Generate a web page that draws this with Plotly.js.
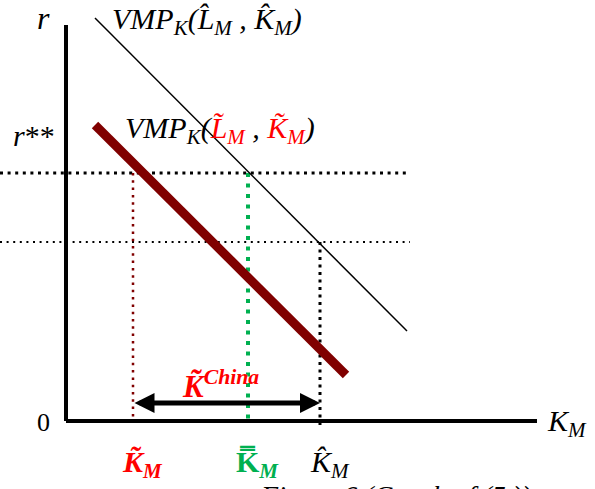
<!DOCTYPE html>
<html>
<head>
<meta charset="utf-8">
<script src="https://cdn.plot.ly/plotly-3.0.1.min.js"></script>
<style>html,body{margin:0;padding:0;background:#fff;}#chart{width:595px;height:489px;}</style>
</head>
<body>
<div id="chart"></div>
<script>
// Data in diagram units (origin at the axes' corner, 1 unit = 1 px)
const axisX = [0, 471];          // horizontal K_M axis extent
const axisY = [0, 396];          // vertical r axis extent
const vmpHatX = [29, 341];       // VMP_K(L^_M, K^_M)
const vmpHatY = [403, 90];
const vmpTildeX = [29, 280];     // VMP_K(L~_M, K~_M)
const vmpTildeY = [296, 46];
const rStarStar = 248;           // r** level
const rLower = 179;              // level at which K^_M is read
const guideLeft = -66, guideRight = 344;
const kTilde = 67;               // K~_M
const kBar = 182;                // K=_M
const kHat = 254;                // K^_M
const arrowLevel = 18;
const kLabels = ['K\u0303', 'K\u033F', 'K\u0302'];

const serif = 'Liberation Serif, Times New Roman, serif';
const RED = '#ff0000', DARKRED = '#800000', GREEN = '#00b050';

const traces = [
  {x: [0, 0], y: axisY, mode: 'lines', line: {color: '#000', width: 4}},
  {x: axisX, y: [0, 0], mode: 'lines', line: {color: '#000', width: 4}},
  {x: [guideLeft, guideRight], y: [rStarStar, rStarStar], mode: 'lines', line: {color: '#000', width: 3, dash: '3px,4.6px'}},
  {x: [guideLeft, guideRight], y: [rLower, rLower], mode: 'lines', line: {color: '#000', width: 2, dash: '2px,4.6px'}},
  {x: [kTilde, kTilde], y: [rStarStar, 0], mode: 'lines', line: {color: DARKRED, width: 2.5, dash: '2.5px,4.8px'}},
  {x: [kBar, kBar], y: [rStarStar, -4], mode: 'lines', line: {color: GREEN, width: 4, dash: '4px,6.5px'}},
  {x: [kHat, kHat], y: [rLower, -4], mode: 'lines', line: {color: '#000', width: 3, dash: '3px,4.5px'}},
  {x: vmpHatX, y: vmpHatY, mode: 'lines', line: {color: '#000', width: 1.5}},
  {x: vmpTildeX, y: vmpTildeY, mode: 'lines', line: {color: DARKRED, width: 9}}
];

function t(x, y, text, size, color, xanchor, yref) {
  return {x: x, y: y, xref: 'x', yref: yref || 'y', text: text, showarrow: false,
    xanchor: xanchor || 'left', yanchor: 'middle',
    font: {family: serif, size: size, color: color || '#000'}};
}

const annotations = [
  t(-14, 403, '<i>r</i>', 32, '#000', 'right'),
  t(-9, 286, '<i>r</i>**', 30, '#000', 'right'),
  t(-14, -1, '0', 26, '#000', 'right'),
  t(479, -2, '<i>K<sub>M</sub></i>', 30),
  t(44, 400, '<i>VMP<sub>K</sub>(L\u0302<sub>M</sub> , K\u0302<sub>M</sub>)</i>', 30),
  t(57, 291, '<i>VMP<sub>K</sub>(<span style="color:' + RED + '">L\u0303<sub>M</sub></span> , <span style="color:' + RED + '">K\u0303<sub>M</sub></span>)</i>', 30),
  t(114, 37, '<b><i>K\u0303<sup>China</sup></i></b>', 31, RED),
  t(kTilde - 13, -43, '<b><i>' + kLabels[0] + '<sub>M</sub></i></b>', 30, RED),
  t(kBar - 14, -43, '<b>' + kLabels[1] + '<i><sub>M</sub></i></b>', 30, GREEN),
  t(kHat - 12, -43, '<i>' + kLabels[2] + '<sub>M</sub></i>', 30, '#000'),
  {x: 192, y: 0.022, xref: 'x', yref: 'paper', text: '<i>Figure 6 (Graph of (5.))</i>', showarrow: false,
   xanchor: 'left', yanchor: 'top', font: {family: serif, size: 28, color: '#000'}},
  {x: kHat, y: arrowLevel, ax: kTilde, ay: arrowLevel, xref: 'x', yref: 'y', axref: 'x', ayref: 'y',
   text: '', showarrow: true, arrowside: 'end+start', arrowhead: 2, arrowsize: 0.8, arrowwidth: 5,
   arrowcolor: '#000', standoff: 0, startstandoff: 0}
];

const layout = {
  width: 595, height: 489,
  margin: {l: 0, r: 0, t: 0, b: 0},
  paper_bgcolor: '#fff', plot_bgcolor: '#fff',
  showlegend: false, hovermode: false,
  xaxis: {range: [-66, 529], visible: false, fixedrange: true},
  yaxis: {range: [-68, 421], visible: false, fixedrange: true},
  annotations: annotations
};

Plotly.newPlot('chart', traces, layout, {staticPlot: true, displayModeBar: false});
</script>
</body>
</html>
